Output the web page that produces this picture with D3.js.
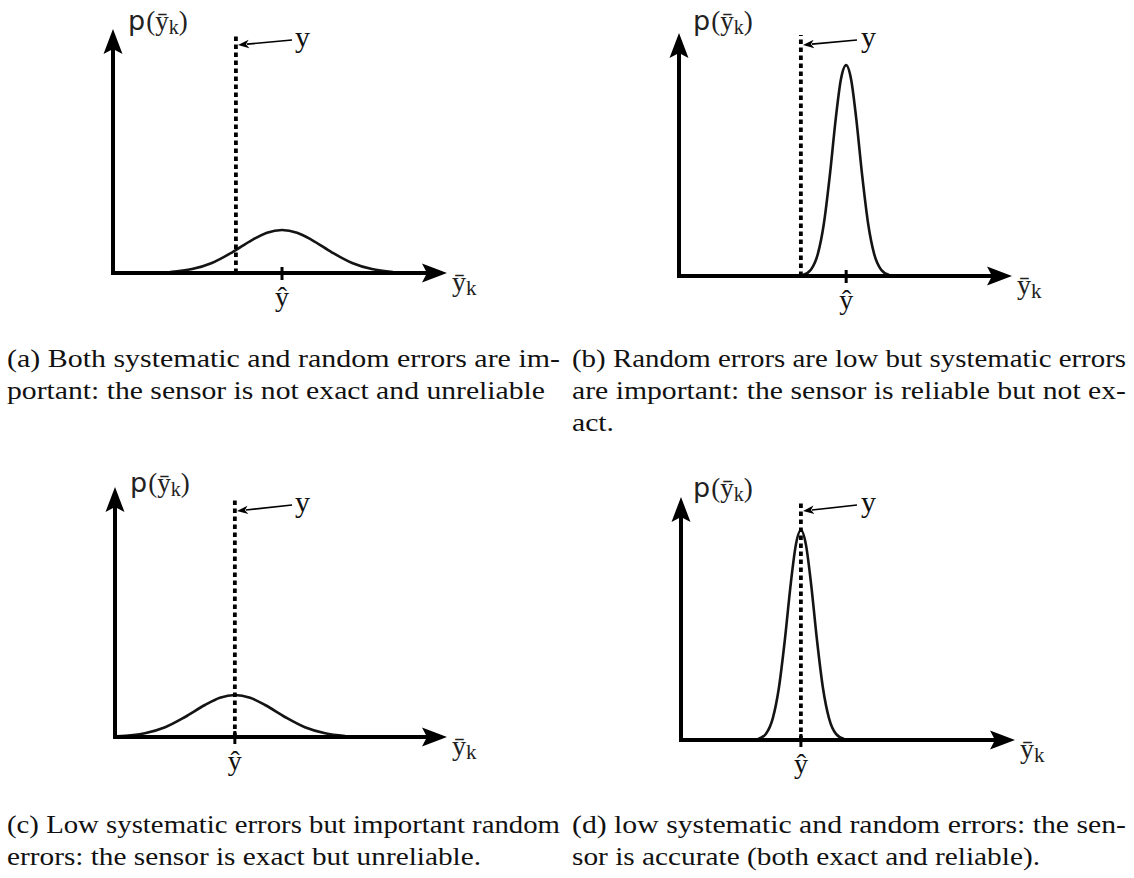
<!DOCTYPE html>
<html>
<head>
<meta charset="utf-8">
<script src="https://cdn.jsdelivr.net/npm/d3@7"></script>
<style>
  html, body { margin: 0; padding: 0; background: #fff; }
  svg { display: block; }
</style>
</head>
<body>
<svg id="chart" width="1134" height="878"></svg>
<script>
// ---------------- DATA ----------------
// x domain 0..10 along the horizontal axis, y domain 0..10 along the vertical axis
const panelIds = ["a", "b", "c", "d"];
const trueValues = [3.68, 3.66, 3.61, 3.59];        // position of the true value y (dotted line)
const estimateValues = [5.06, 5.02, 3.61, 3.59];    // position of the mean estimate ŷ

const curveXa = [1.71, 2.37, 2.96, 3.56, 4.16, 4.61, 5.06, 5.51, 5.96, 6.56, 7.16, 7.75, 8.38];
const curveYa = [0.04, 0.16, 0.41, 0.84, 1.35, 1.65, 1.76, 1.65, 1.35, 0.84, 0.41, 0.16, 0.04];

const curveXb = [3.72, 3.96, 4.17, 4.35, 4.53, 4.71, 4.86, 5.02, 5.17, 5.32, 5.50, 5.68, 5.86, 6.07, 6.31];
const curveYb = [0.04, 0.26, 0.91, 2.15, 4.15, 6.51, 8.08, 8.68, 8.08, 6.51, 4.15, 2.15, 0.91, 0.26, 0.04];

const curveXc = [0.06, 0.90, 1.51, 2.11, 2.71, 3.16, 3.61, 4.07, 4.52, 5.12, 5.72, 6.33, 6.93];
const curveYc = [0.03, 0.15, 0.39, 0.80, 1.28, 1.57, 1.68, 1.57, 1.28, 0.80, 0.39, 0.15, 0.04];

const curveXd = [2.31, 2.54, 2.75, 2.93, 3.11, 3.29, 3.44, 3.59, 3.74, 3.89, 4.07, 4.25, 4.43, 4.64, 4.88];
const curveYd = [0.04, 0.25, 0.90, 2.14, 4.13, 6.48, 8.04, 8.64, 8.04, 6.48, 4.13, 2.14, 0.90, 0.25, 0.04];

const yAxisLabelP = "p";
const yAxisLabelRest = "(ȳ";
const axisSub = "k";
const xAxisLabel = "ȳ";
const trueLabel = "y";
const estimateLabel = "ŷ";

const captionA = ["(a) Both systematic and random errors are im-", "portant: the sensor is not exact and unreliable"];
const captionB = ["(b) Random errors are low but systematic errors", "are important: the sensor is reliable but not ex-", "act."];
const captionC = ["(c) Low systematic errors but important random", "errors: the sensor is exact but unreliable."];
const captionD = ["(d) low systematic and random errors: the sen-", "sor is accurate (both exact and reliable)."];

// ---------------- LAYOUT ----------------
const layout = [
  { axisX: 113, tipX: 447,  axisY: 273, topY: 29,  dotTop: 34,  arrow: [292, 40, 238, 45],  yLab: [295, 47],  pLab: [128, 30] },
  { axisX: 679, tipX: 1012, axisY: 276, topY: 33,  dotTop: 35,  arrow: [857, 40, 803, 45],  yLab: [861, 47],  pLab: [693, 30] },
  { axisX: 115, tipX: 447,  axisY: 737, topY: 487, dotTop: 499, arrow: [292, 505, 237, 511], yLab: [295, 512], pLab: [130, 492] },
  { axisX: 681, tipX: 1015, axisY: 740, topY: 497, dotTop: 500, arrow: [857, 505, 803, 511], yLab: [861, 512], pLab: [693, 497] }
];
const curvesX = [curveXa, curveXb, curveXc, curveXd];
const curvesY = [curveYa, curveYb, curveYc, curveYd];

const captionLayout = [
  { lines: captionA, x: 7,   y0: 367, widths: [553, 538] },
  { lines: captionB, x: 572, y0: 367, widths: [554, 554, 42] },
  { lines: captionC, x: 7,   y0: 833, widths: [553, 474] },
  { lines: captionD, x: 572, y0: 833, widths: [554, 468] }
];
const lineGap = 32;

const serif = "Liberation Serif, DejaVu Serif, Times New Roman, serif";
const sans = "DejaVu Sans, Liberation Sans, sans-serif";
const ink = "#000";

const svg = d3.select("#chart");

layout.forEach((L, i) => {
  const g = svg.append("g").attr("class", "panel-" + panelIds[i]);
  const x = d3.scaleLinear().domain([0, 10]).range([L.axisX, L.tipX]);
  const y = d3.scaleLinear().domain([0, 10]).range([L.axisY, L.topY]);

  // density curve
  const pts = curvesX[i].map((v, k) => [v, curvesY[i][k]]);
  g.append("path")
    .datum(pts)
    .attr("d", d3.line().x(d => x(d[0])).y(d => y(d[1])).curve(d3.curveMonotoneX))
    .attr("fill", "none")
    .attr("stroke", "#141414")
    .attr("stroke-width", 2.6);

  // axes (thick lines with filled arrowheads)
  const x0 = x(0), y0 = y(0), xT = x(10), yT = y(10);
  g.append("line").attr("x1", x0).attr("y1", y0 + 2).attr("x2", x0).attr("y2", yT + 18)
    .attr("stroke", ink).attr("stroke-width", 4);
  g.append("line").attr("x1", x0 - 2).attr("y1", y0).attr("x2", xT - 18).attr("y2", y0)
    .attr("stroke", ink).attr("stroke-width", 4);
  g.append("path")
    .attr("d", `M${x0},${yT} L${x0 + 9.5},${yT + 25} L${x0},${yT + 20} L${x0 - 9.5},${yT + 25} Z`)
    .attr("fill", ink);
  g.append("path")
    .attr("d", `M${xT},${y0} L${xT - 25},${y0 - 9.5} L${xT - 20},${y0} L${xT - 25},${y0 + 9.5} Z`)
    .attr("fill", ink);

  // estimate tick
  const xe = x(estimateValues[i]);
  g.append("line").attr("x1", xe).attr("y1", y0 - 6).attr("x2", xe).attr("y2", y0 + 7)
    .attr("stroke", ink).attr("stroke-width", 3);

  // dotted true value line
  const xt = x(trueValues[i]);
  g.append("line").attr("x1", xt).attr("y1", y0).attr("x2", xt).attr("y2", L.dotTop)
    .attr("stroke", ink).attr("stroke-width", 3.8)
    .attr("stroke-dasharray", "4.6,3.4");

  // small arrow pointing to the dotted line
  const [ax0, ay0, ax1, ay1] = L.arrow;
  const ang = Math.atan2(ay1 - ay0, ax1 - ax0);
  const hl = 11, hw = 4.2;
  const bx = ax1 - hl * Math.cos(ang), by = ay1 - hl * Math.sin(ang);
  g.append("line").attr("x1", ax0).attr("y1", ay0).attr("x2", bx + 2 * Math.cos(ang)).attr("y2", by + 2 * Math.sin(ang))
    .attr("stroke", ink).attr("stroke-width", 1.7);
  g.append("path")
    .attr("d", `M${ax1},${ay1} L${bx - hw * Math.sin(ang)},${by + hw * Math.cos(ang)} L${bx + 3 * Math.cos(ang)},${by + 3 * Math.sin(ang)} L${bx + hw * Math.sin(ang)},${by - hw * Math.cos(ang)} Z`)
    .attr("fill", ink);

  // labels
  g.append("text").attr("x", L.yLab[0]).attr("y", L.yLab[1])
    .attr("font-family", serif).attr("font-size", 30).attr("fill", "#111")
    .text(trueLabel);

  g.append("text").attr("x", xe).attr("y", y0 + 33)
    .attr("text-anchor", "middle")
    .attr("font-family", serif).attr("font-size", 28).attr("fill", "#111")
    .text(estimateLabel);

  const xl = g.append("text").attr("x", xT + 5).attr("y", y0 + 18)
    .attr("font-family", serif).attr("font-size", 28).attr("fill", "#222");
  xl.append("tspan").text(xAxisLabel);
  xl.append("tspan").attr("font-size", 21).attr("dy", 4).text(axisSub);

  const pl = g.append("text").attr("x", L.pLab[0]).attr("y", L.pLab[1])
    .attr("font-size", 27).attr("fill", "#222");
  pl.append("tspan").attr("font-family", sans).text(yAxisLabelP);
  pl.append("tspan").attr("font-family", serif).attr("dx", 1).text(yAxisLabelRest);
  pl.append("tspan").attr("font-family", serif).attr("font-size", 20).attr("dy", 4).text(axisSub);
  pl.append("tspan").attr("font-family", serif).attr("dy", -4).text(")");
});

// captions: Computer-Modern-like width obtained by stretching each line to its measured width
captionLayout.forEach(C => {
  C.lines.forEach((line, j) => {
    svg.append("text")
      .attr("x", C.x).attr("y", C.y0 + j * lineGap)
      .attr("font-family", serif).attr("font-size", 26).attr("fill", "#111")
      .attr("textLength", C.widths[j]).attr("lengthAdjust", "spacingAndGlyphs")
      .text(line);
  });
});
</script>
</body>
</html>
